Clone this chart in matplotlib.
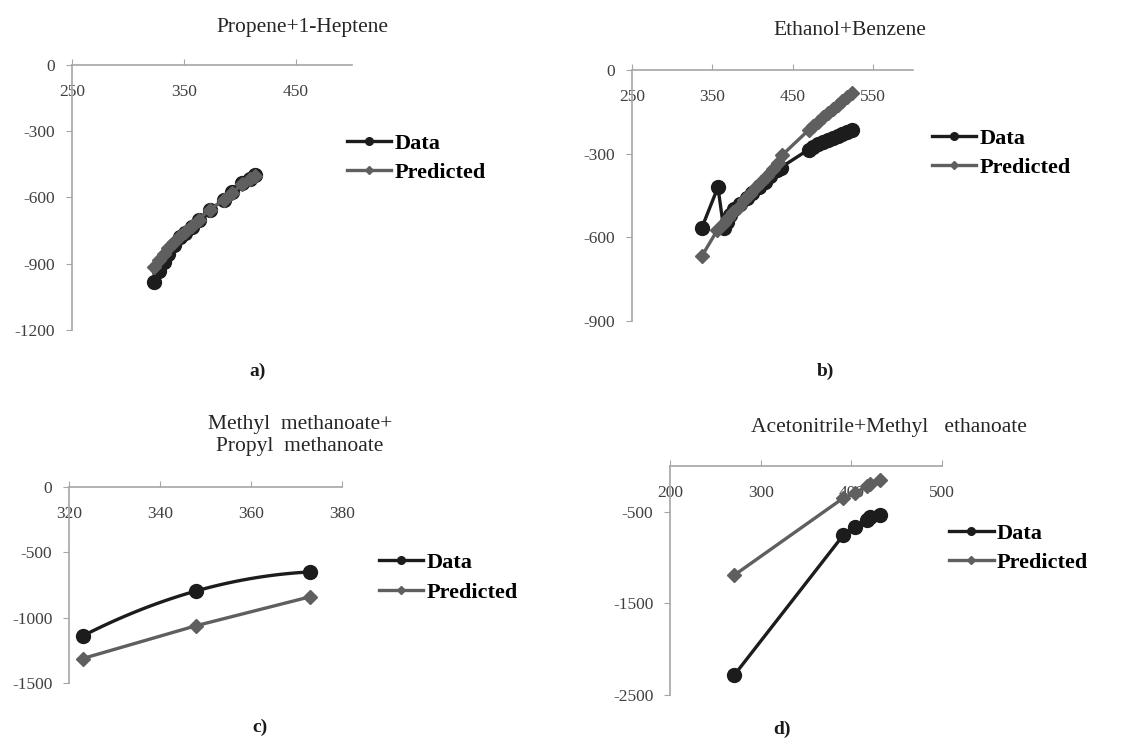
import numpy as np
import matplotlib
matplotlib.use("Agg")
import matplotlib.pyplot as plt

plt.rcParams["font.family"] = ["Liberation Serif", "DejaVu Serif"]
plt.rcParams["axes.unicode_minus"] = False

# a) Propene+1-Heptene
a_x = [323, 328, 332, 336, 341, 346, 351, 357, 363, 373, 386, 393, 402, 409, 413]
a_data = [-985, -935, -890, -855, -815, -780, -760, -735, -700, -655, -610, -575, -535, -515, -500]
a_pred = [-915, -885, -855, -830, -800, -775, -755, -730, -700, -655, -610, -578, -540, -518, -505]

# b) Ethanol+Benzene
b_x_data = [337, 357, 364, 368, 372, 377, 385, 393, 400, 408, 415, 422, 430, 435,
            470, 476, 482, 488, 494, 500, 506, 512, 518, 524]
b_data = [-565, -420, -565, -545, -520, -500, -480, -460, -440, -420, -400, -380, -360, -350,
          -285, -275, -265, -258, -252, -245, -238, -230, -222, -215]
b_x_pred = [337, 356, 364, 370, 376, 383, 390, 397, 404, 411, 418, 425, 432, 437,
            470, 476, 482, 488, 494, 500, 506, 512, 518, 524]
b_pred = [-667, -575, -550, -530, -510, -490, -465, -445, -420, -400, -380, -355, -335, -305,
          -215, -200, -185, -170, -155, -140, -125, -110, -95, -82]

# c) Methyl methanoate + Propyl methanoate
c_x = [323, 348, 373]
c_data = [-1140, -795, -650]
c_pred = [-1313, -1061, -840]

# d) Acetonitrile+Methyl ethanoate
d_x = [271, 391, 404, 417, 420, 432]
d_data = [-2280, -755, -670, -590, -560, -535]
d_pred = [-1190, -350, -295, -220, -200, -153]

titles = ["Propene+1-Heptene", "Ethanol+Benzene",
          "Methyl  methanoate+\nPropyl  methanoate", "Acetonitrile+Methyl   ethanoate"]
panel_labels = ["a)", "b)", "c)", "d)"]

DATA_C = "#1c1c1c"
PRED_C = "#5f5f5f"
AXIS_C = "#a6a6a6"
TEXT_C = "#404040"

fig = plt.figure(figsize=(11.45, 7.39), dpi=100)


def style_axes(ax, xlim, xticks, ylim, yticks):
    ax.set_xlim(*xlim)
    ax.set_ylim(*ylim)
    ax.set_xticks(xticks)
    ax.set_yticks(yticks)
    for s in ("bottom", "right"):
        ax.spines[s].set_visible(False)
    for s in ("top", "left"):
        ax.spines[s].set_color(AXIS_C)
        ax.spines[s].set_linewidth(1.2)
    ax.tick_params(axis="x", top=True, bottom=False, labeltop=True, labelbottom=False,
                   direction="out", length=4, color=AXIS_C, pad=-29,
                   labelsize=12.5, labelcolor=TEXT_C)
    ax.tick_params(axis="y", direction="out", length=4, color=AXIS_C, pad=8,
                   labelsize=12.5, labelcolor=TEXT_C)
    ax.patch.set_alpha(0)


def add_legend(ax, x, y):
    leg = ax.legend(loc="center left", bbox_to_anchor=(x, y), bbox_transform=fig.transFigure,
                    frameon=False, handlelength=2.0, handletextpad=0.15, labelspacing=0.4,
                    borderpad=0, borderaxespad=0, markerscale=0.55,
                    prop={"weight": "bold", "size": 16})
    return leg


data_kw = dict(color=DATA_C, lw=2.4, marker="o", ms=10, label="Data")
pred_kw = dict(color=PRED_C, lw=2.4, marker="D", ms=7, label="Predicted")

# a
ax = fig.add_axes([0.0629, 0.5535, 0.2445, 0.3586])
ax.plot(a_x, a_data, **data_kw, zorder=2)
ax.plot(a_x, a_pred, **pred_kw, zorder=3)
style_axes(ax, (250, 500), [250, 350, 450], (-1200, 0), [0, -300, -600, -900, -1200])
add_legend(ax, 0.303, 0.786)

# b
ax = fig.add_axes([0.552, 0.5656, 0.2454, 0.3396])
ax.plot(b_x_data, b_data, **data_kw, zorder=2)
ax.plot(b_x_pred, b_pred, **pred_kw, zorder=3)
style_axes(ax, (250, 600), [250, 350, 450, 550], (-900, 0), [0, -300, -600, -900])
add_legend(ax, 0.814, 0.793)

# c - data line drawn smoothed through its three points
ax = fig.add_axes([0.0603, 0.0758, 0.2384, 0.2652])
coef = np.polyfit(c_x, c_data, 2)
xs = np.linspace(c_x[0], c_x[-1], 60)
ax.plot(xs, np.polyval(coef, xs), color=DATA_C, lw=2.4, zorder=2)
ax.plot(c_x, c_data, color=DATA_C, lw=0, marker="o", ms=10, zorder=3)
ax.plot([], [], **data_kw)
ax.plot(c_x, c_pred, **pred_kw, zorder=3)
style_axes(ax, (320, 380), [320, 340, 360, 380], (-1500, 0), [0, -500, -1000, -1500])
add_legend(ax, 0.331, 0.2185)

# d
ax = fig.add_axes([0.5852, 0.0595, 0.2376, 0.3099])
ax.plot(d_x, d_data, **data_kw, zorder=2)
ax.plot(d_x, d_pred, **pred_kw, zorder=3)
style_axes(ax, (200, 500), [200, 300, 400, 500], (-2500, 0), [-500, -1500, -2500])
add_legend(ax, 0.829, 0.2585)

# titles and panel labels
title_pos = [(0.264, 0.963), (0.742, 0.959), (0.262, 0.411), (0.776, 0.421)]
label_pos = [(0.225, 0.497), (0.7205, 0.497), (0.227, 0.016), (0.683, 0.013)]
for t, (tx, ty) in zip(titles, title_pos):
    fig.text(tx, ty, t, ha="center", va="center", fontsize=15.5, color="#262626",
             linespacing=1.25)
for l, (lx, ly) in zip(panel_labels, label_pos):
    fig.text(lx, ly, l, ha="center", va="center", fontsize=14, fontweight="bold",
             color="#1a1a1a")

fig.savefig("out.png", dpi=100)
